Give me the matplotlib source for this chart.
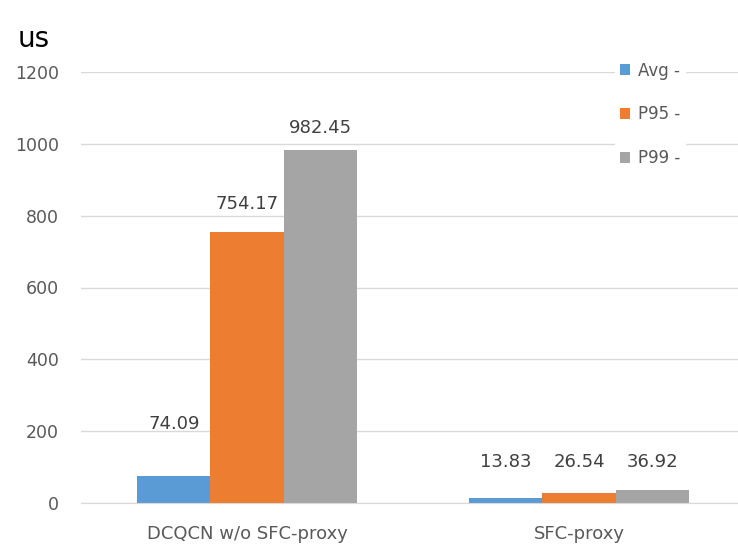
import matplotlib
matplotlib.use("Agg")
import matplotlib.pyplot as plt
import numpy as np

categories = ["DCQCN w/o SFC-proxy", "SFC-proxy"]
series_names = ["Avg -", "P95 -", "P99 -"]
avg = [74.09, 13.83]
p95 = [754.17, 26.54]
p99 = [982.45, 36.92]
yticks = [0, 200, 400, 600, 800, 1000, 1200]
colors = ["#5B9BD5", "#ED7D31", "#A5A5A5"]
# vertical placement (data units) of the value labels, as laid out in the source chart
label_y = [[220, 114], [832, 114], [1044, 114]]

plt.rcParams['font.family'] = ['DejaVu Sans']

W, H = 738, 546
fig = plt.figure(figsize=(W/100, H/100), dpi=100)
left_px, right_px = 81, 738
top_px, bot_px = 72, 503
ax = fig.add_axes([left_px/W, 1 - bot_px/H, (right_px-left_px)/W, (bot_px-top_px)/H])

x = np.arange(len(categories))
bw = 0.22
data = [avg, p95, p99]
for i, (vals, name, c) in enumerate(zip(data, series_names, colors)):
    pos = x + (i - 1) * bw
    ax.bar(pos, vals, bw, color=c, label=name, zorder=3)
    for px_, v, ly in zip(pos, vals, label_y[i]):
        ax.text(px_, ly, f"{v:.2f}", ha='center', va='center',
                fontsize=13, color='#404040')

ax.set_xlim(-0.5, -0.5 + (right_px - left_px) / 332)
ax.set_ylim(0, 1200)
ax.set_yticks(yticks)
ax.set_yticklabels([str(t) for t in yticks], fontsize=12.5, color='#595959')
ax.set_xticks(x)
ax.set_xticklabels(categories, fontsize=13, color='#595959')
ax.tick_params(axis='both', length=0)
ax.tick_params(axis='y', pad=16)
ax.tick_params(axis='x', pad=16)
ax.grid(axis='y', color='#D9D9D9', linewidth=1, zorder=0)
for s in ['top', 'right', 'left']:
    ax.spines[s].set_visible(False)
ax.spines['bottom'].set_color('#D9D9D9')
ax.spines['bottom'].set_zorder(4)

leg = ax.legend(loc='upper left', bbox_to_anchor=((607-left_px)/(right_px-left_px), 1.055),
                frameon=True, fontsize=12, labelspacing=1.55, handlelength=0.6,
                handleheight=0.6, handletextpad=0.45, borderpad=0.3,
                framealpha=1, edgecolor='white', facecolor='white')
for t in leg.get_texts():
    t.set_color('#595959')
leg.set_zorder(5)

fig.text(18/W, 1 - 39/H, "us", fontsize=20, color='black', va='center', ha='left')

fig.savefig("out.png", dpi=100)
